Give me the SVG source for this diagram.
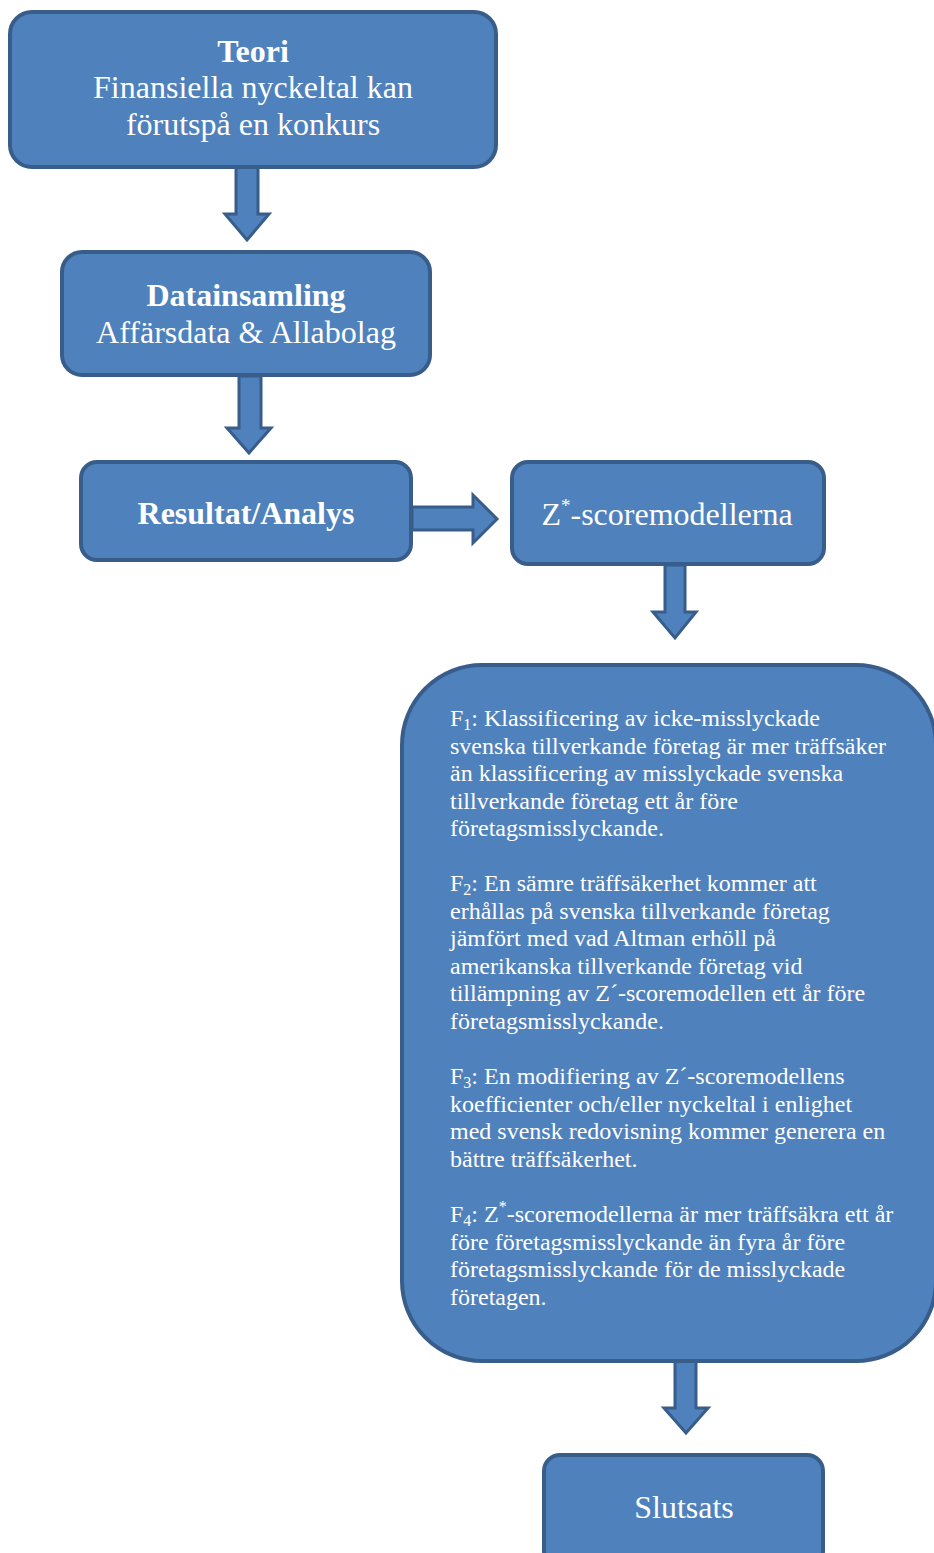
<svg xmlns="http://www.w3.org/2000/svg" width="934" height="1553" viewBox="0 0 934 1553">
<style>
.box{fill:#4F81BD;stroke:#385D8A;stroke-width:4}
.arr{fill:#4F81BD;stroke:#385D8A;stroke-width:3;stroke-linejoin:miter}
.t{font-family:"Liberation Serif","Times New Roman",serif;fill:#FFFFFF}
.big{font-size:32px;text-anchor:middle}
.b{font-weight:bold}
.small{font-size:24px}
</style>
<rect width="934" height="1553" fill="#FFFFFF"/>
<g id="connectors">
<path class="arr" d="M236,167 L258,167 L258,214 L269,214 L247,240 L225,214 L236,214 Z"/>
<path class="arr" d="M239,376 L261,376 L261,428 L271,428 L249,453 L227,428 L239,428 Z"/>
<path class="arr" d="M412,507 L473,507 L473,495 L497,519 L473,543 L473,530 L412,530 Z"/>
<path class="arr" d="M665,565 L685,565 L685,612 L696,612 L675,638 L653,612 L665,612 Z"/>
<path class="arr" d="M675,1361 L696,1361 L696,1408 L708,1408 L686,1433 L664,1408 L675,1408 Z"/>
</g>
<g id="teori">
<rect class="box" x="10" y="12" width="486" height="155" rx="22"/>
<text class="t big b" x="253" y="62">Teori</text>
<text class="t big" x="253" y="98">Finansiella nyckeltal kan</text>
<text class="t big" x="253" y="135">förutspå en konkurs</text>
</g>
<g id="datainsamling">
<rect class="box" x="62" y="252" width="368" height="123" rx="20"/>
<text class="t big b" x="246" y="306">Datainsamling</text>
<text class="t big" x="246" y="343">Affärsdata &amp; Allabolag</text>
</g>
<g id="resultat">
<rect class="box" x="81" y="462" width="330" height="98" rx="16"/>
<text class="t big b" x="246" y="524">Resultat/Analys</text>
</g>
<g id="zscore">
<rect class="box" x="512" y="462" width="312" height="102" rx="16"/>
<text class="t big" x="667" y="525">Z<tspan font-size="19" dy="-13">*</tspan><tspan dy="13">-scoremodellerna</tspan></text>
</g>
<g id="hypoteser">
<rect class="box" x="402" y="665" width="534" height="696" rx="80"/>
<text class="t small" x="450">
<tspan x="450" y="726">F<tspan font-size="16" dy="4">1</tspan><tspan dy="-4">: Klassificering av icke-misslyckade</tspan></tspan>
<tspan x="450" y="753.6">svenska tillverkande företag är mer träffsäker</tspan>
<tspan x="450" y="781.2">än klassificering av misslyckade svenska</tspan>
<tspan x="450" y="808.8">tillverkande företag ett år före</tspan>
<tspan x="450" y="836.4">företagsmisslyckande.</tspan>
<tspan x="450" y="891">F<tspan font-size="16" dy="4">2</tspan><tspan dy="-4">: En sämre träffsäkerhet kommer att</tspan></tspan>
<tspan x="450" y="918.6">erhållas på svenska tillverkande företag</tspan>
<tspan x="450" y="946.2">jämfört med vad Altman erhöll på</tspan>
<tspan x="450" y="973.8">amerikanska tillverkande företag vid</tspan>
<tspan x="450" y="1001.4">tillämpning av Z´-scoremodellen ett år före</tspan>
<tspan x="450" y="1029">företagsmisslyckande.</tspan>
<tspan x="450" y="1084">F<tspan font-size="16" dy="4">3</tspan><tspan dy="-4">: En modifiering av Z´-scoremodellens</tspan></tspan>
<tspan x="450" y="1111.6">koefficienter och/eller nyckeltal i enlighet</tspan>
<tspan x="450" y="1139.2">med svensk redovisning kommer generera en</tspan>
<tspan x="450" y="1166.8">bättre träffsäkerhet.</tspan>
<tspan x="450" y="1222">F<tspan font-size="16" dy="4">4</tspan><tspan dy="-4">: Z</tspan><tspan font-size="16" dy="-10">*</tspan><tspan dy="10">-scoremodellerna är mer träffsäkra ett år</tspan></tspan>
<tspan x="450" y="1249.6">före företagsmisslyckande än fyra år före</tspan>
<tspan x="450" y="1277.2">företagsmisslyckande för de misslyckade</tspan>
<tspan x="450" y="1304.8">företagen.</tspan>
</text>
</g>
<g id="slutsats">
<rect class="box" x="544" y="1455" width="279" height="112" rx="16"/>
<text class="t big" x="684" y="1518">Slutsats</text>
</g>
</svg>
